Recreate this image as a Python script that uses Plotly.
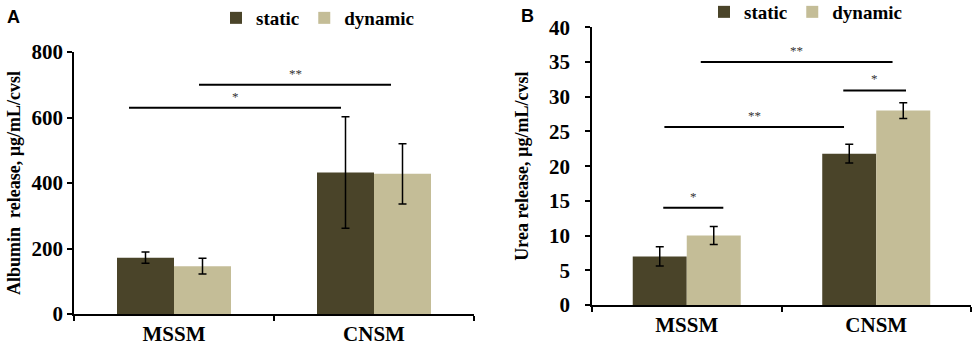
import plotly.graph_objects as go

categories = ["MSSM", "CNSM"]
series_names = ["static", "dynamic"]

# Panel A: albumin release
albumin_static = [172, 432]
albumin_static_err = [17, 170]
albumin_dynamic = [146, 428]
albumin_dynamic_err = [24, 92]

# Panel B: urea release
urea_static = [7.0, 21.8]
urea_static_err = [1.4, 1.35]
urea_dynamic = [10.0, 28.0]
urea_dynamic_err = [1.3, 1.15]

# significance brackets: (x start, x end, y level, label)
sig_a_x0 = [-0.225, 0.125]
sig_a_x1 = [0.835, 1.085]
sig_a_y = [630, 700]
sig_a_label = ["*", "**"]

sig_b_x0 = [-0.124, -0.118, 0.826, 0.074]
sig_b_x1 = [0.193, 0.83, 1.157, 1.086]
sig_b_y = [14.0, 25.65, 30.9, 35.0]
sig_b_label = ["*", "**", "*", "**"]

y_ticks_a = [0, 200, 400, 600, 800]
y_ticks_b = [0, 5, 10, 15, 20, 25, 30, 35, 40]

C_STATIC = "#4a4429"
C_DYNAMIC = "#c4bd97"
SERIF = "Liberation Serif"

W, H = 977, 349
xpos = [0, 1]

fig = go.Figure()

def add_panel(xa, ya, legend, s_vals, s_err, d_vals, d_err):
    fig.add_trace(go.Bar(
        x=xpos, y=s_vals, name=series_names[0], marker=dict(color=C_STATIC, line=dict(width=0)),
        error_y=dict(type="data", array=s_err, color="black", thickness=1.5, width=4),
        xaxis=xa, yaxis=ya, legend=legend))
    fig.add_trace(go.Bar(
        x=xpos, y=d_vals, name=series_names[1], marker=dict(color=C_DYNAMIC, line=dict(width=0)),
        error_y=dict(type="data", array=d_err, color="black", thickness=1.5, width=4),
        xaxis=xa, yaxis=ya, legend=legend))

add_panel("x", "y", "legend", albumin_static, albumin_static_err, albumin_dynamic, albumin_dynamic_err)
add_panel("x2", "y2", "legend2", urea_static, urea_static_err, urea_dynamic, urea_dynamic_err)

shapes = []
annotations = []
for x0, x1, y, lab in zip(sig_a_x0, sig_a_x1, sig_a_y, sig_a_label):
    shapes.append(dict(type="line", xref="x", yref="y", x0=x0, x1=x1, y0=y, y1=y,
                       line=dict(color="black", width=2)))
    annotations.append(dict(xref="x", yref="y", x=(x0 + x1) / 2, y=y, text=lab, showarrow=False,
                            yanchor="bottom", yshift=2, font=dict(family=SERIF, size=13, color="#333")))
for x0, x1, y, lab in zip(sig_b_x0, sig_b_x1, sig_b_y, sig_b_label):
    shapes.append(dict(type="line", xref="x2", yref="y2", x0=x0, x1=x1, y0=y, y1=y,
                       line=dict(color="black", width=2)))
    annotations.append(dict(xref="x2", yref="y2", x=(x0 + x1) / 2, y=y, text=lab, showarrow=False,
                            yanchor="bottom", yshift=2, font=dict(family=SERIF, size=13, color="#333")))

annotations.append(dict(xref="paper", yref="paper", x=5 / W, y=1 - 5 / H, xanchor="left", yanchor="top",
                        text="<b>A</b>", showarrow=False,
                        font=dict(family="Liberation Sans", size=18, color="black")))
annotations.append(dict(xref="paper", yref="paper", x=519 / W, y=1 - 4 / H, xanchor="left", yanchor="top",
                        text="<b>B</b>", showarrow=False,
                        font=dict(family="Liberation Sans", size=18, color="black")))

tickfont = dict(family=SERIF, size=21, color="black", weight="bold")

def xaxis_cfg(domain, anchor):
    return dict(domain=domain, anchor=anchor, range=[-0.5, 1.5], tickmode="array",
                tickvals=xpos, ticktext=categories, ticks="", showline=True, linecolor="black",
                linewidth=1.5, tickfont=tickfont, showgrid=False, zeroline=False,
                minor=dict(tickmode="array", tickvals=[-0.5, 0.5, 1.5], ticks="outside",
                           ticklen=5, tickcolor="black", tickwidth=1.5, showgrid=False))

def yaxis_cfg(domain, anchor, rng, tickvals, title, standoff, tls):
    return dict(domain=domain, anchor=anchor, range=rng, tickmode="array", tickvals=tickvals,
                ticks="outside", ticklen=5, tickcolor="black", tickwidth=1.5, showline=True,
                linecolor="black", linewidth=1.5, tickfont=tickfont, showgrid=False, zeroline=False,
                ticklabelstandoff=tls,
                title=dict(text=title, standoff=standoff,
                           font=dict(family=SERIF, size=18, color="black", weight="bold")))

fig.update_layout(
    width=W, height=H, margin=dict(l=0, r=0, t=0, b=0, autoexpand=False),
    paper_bgcolor="white", plot_bgcolor="white",
    barmode="group", bargap=0.43, bargroupgap=0,
    xaxis=xaxis_cfg([74 / W, 474 / W], "y"),
    yaxis=yaxis_cfg([1 - 314 / H, 1 - 52 / H], "x", [0, 800], y_ticks_a,
                    "Albumin  release, µg/mL/cvsl", 6, 0),
    xaxis2=xaxis_cfg([592 / W, 971 / W], "y2"),
    yaxis2=yaxis_cfg([1 - 305 / H, 1 - 27.3 / H], "x2", [0, 40], y_ticks_b,
                     "Urea release, µg/mL/cvsl", 16, 11),
    legend=dict(orientation="h", x=216 / W, y=1 + 1 / H, xanchor="left", yanchor="top",
                font=dict(family=SERIF, size=19, color="black", weight="bold"),
                entrywidth=0, bgcolor="rgba(0,0,0,0)", itemclick=False),
    legend2=dict(orientation="h", x=704 / W, y=1 + 7 / H, xanchor="left", yanchor="top",
                 font=dict(family=SERIF, size=19, color="black", weight="bold"),
                 entrywidth=0, bgcolor="rgba(0,0,0,0)", itemclick=False),
    shapes=shapes, annotations=annotations,
)

fig.write_html("out.html", post_script="document.body.style.margin='0';",
               config={"displayModeBar": False})
